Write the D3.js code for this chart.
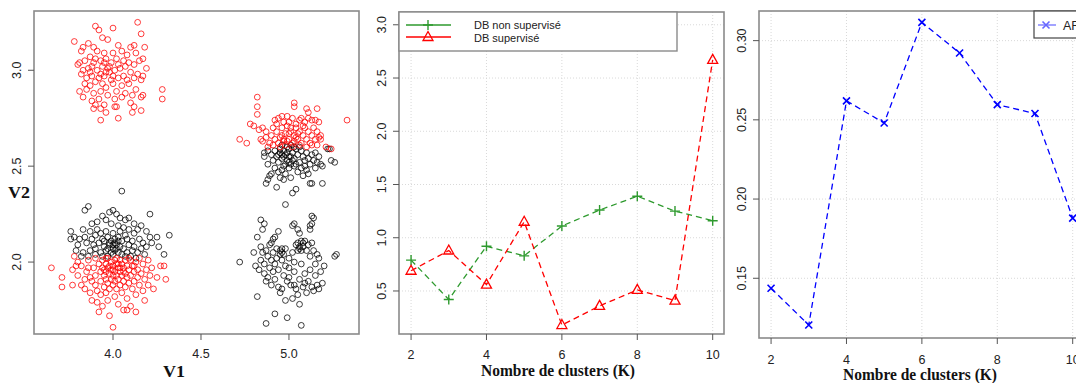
<!DOCTYPE html>
<html>
<head>
<meta charset="utf-8">
<script src="https://cdn.jsdelivr.net/npm/d3@7"></script>
<style>
body { margin: 0; background: #fff; }
text { font-family: Arial, "Liberation Sans", sans-serif; }
</style>
</head>
<body>
<div id="chart"></div>
<script>
// ---- data ----
let redTopLeft = [[3.78,3.15],[3.90,3.23],[3.92,3.21],[4.00,3.22],[4.14,3.25],[4.16,3.19],[4.18,3.12],[4.12,3.13],[4.10,3.12],[4.03,3.13],[3.97,3.16],[3.94,3.17],[3.86,3.14],[3.83,3.12],[3.82,3.10],[3.89,3.12],[3.91,3.10],[3.95,3.09],[4.00,3.09],[4.05,3.10],[4.08,3.08],[4.13,3.09],[4.17,3.06],[3.81,3.04],[3.84,3.05],[3.87,3.07],[3.90,3.06],[3.93,3.05],[3.96,3.06],[3.99,3.04],[4.02,3.06],[4.06,3.05],[4.09,3.04],[4.12,3.03],[4.15,3.05],[4.19,3.01],[3.80,3.03],[3.83,3.00],[3.86,3.01],[3.88,3.02],[3.91,3.00],[3.94,3.02],[3.97,3.01],[3.98,2.99],[4.01,3.00],[4.04,3.01],[4.07,3.02],[4.10,2.99],[4.14,2.98],[4.17,2.97],[3.82,2.98],[3.85,2.96],[3.88,2.97],[3.92,2.96],[3.95,2.97],[3.99,2.95],[4.03,2.96],[4.06,2.97],[4.08,2.95],[4.12,2.96],[4.16,2.95],[3.84,2.93],[3.87,2.92],[3.90,2.94],[3.94,2.93],[3.96,2.91],[4.00,2.93],[4.05,2.92],[4.09,2.93],[4.13,2.90],[3.81,2.89],[3.85,2.90],[3.89,2.88],[3.93,2.89],[3.97,2.87],[4.02,2.89],[4.07,2.88],[4.11,2.87],[4.16,2.86],[4.17,2.87],[4.28,2.90],[4.28,2.85],[3.83,2.86],[3.88,2.84],[3.92,2.85],[3.95,2.82],[4.01,2.85],[4.05,2.86],[4.10,2.83],[3.90,2.82],[3.93,2.80],[3.89,2.80],[4.01,2.81],[4.02,2.81],[4.12,2.81],[4.11,2.78],[4.16,2.79],[3.93,2.74],[4.03,2.75],[3.96,2.78],[3.98,3.02],[3.96,2.99],[3.93,2.98],[4.00,2.97],[3.89,3.04],[3.95,3.04],[4.03,3.03],[3.87,2.99]];

let blackBottomLeft = [[4.05,2.37],[3.86,2.29],[3.84,2.27],[4.21,2.25],[3.98,2.26],[4.00,2.27],[4.02,2.25],[4.04,2.23],[4.07,2.22],[4.09,2.23],[3.94,2.24],[3.91,2.21],[3.96,2.22],[3.88,2.20],[4.12,2.20],[4.16,2.19],[3.99,2.20],[4.03,2.19],[4.06,2.18],[4.09,2.17],[4.14,2.17],[3.76,2.16],[3.76,2.12],[3.83,2.17],[3.87,2.16],[3.91,2.17],[3.93,2.15],[3.96,2.16],[4.00,2.15],[4.04,2.16],[4.07,2.14],[4.12,2.15],[4.19,2.16],[4.21,2.13],[4.25,2.13],[4.32,2.14],[3.78,2.13],[3.81,2.12],[3.84,2.13],[3.88,2.12],[3.90,2.14],[3.94,2.12],[3.97,2.13],[4.01,2.12],[4.03,2.13],[4.05,2.11],[4.08,2.12],[4.11,2.11],[4.15,2.12],[4.17,2.10],[4.22,2.10],[3.80,2.09],[3.85,2.10],[3.89,2.09],[3.92,2.10],[3.95,2.08],[3.98,2.09],[4.00,2.07],[4.02,2.09],[4.04,2.08],[4.06,2.07],[4.09,2.09],[4.12,2.08],[4.16,2.07],[4.19,2.08],[4.26,2.08],[3.79,2.06],[3.83,2.05],[3.87,2.06],[3.90,2.07],[3.93,2.05],[3.96,2.06],[3.99,2.05],[4.01,2.06],[4.03,2.05],[4.05,2.04],[4.08,2.05],[4.11,2.06],[4.14,2.05],[4.18,2.04],[4.29,2.04],[3.82,2.03],[3.86,2.03],[3.90,2.04],[3.94,2.03],[3.97,2.03],[4.00,2.04],[4.07,2.03],[4.10,2.03],[4.13,2.02],[3.98,2.10],[3.99,2.11],[4.01,2.10],[4.03,2.11],[3.97,2.07],[4.02,2.07],[4.00,2.09],[3.95,2.11]];

let redBottomLeft = [[3.65,1.97],[3.71,1.92],[3.71,1.87],[3.77,1.88],[3.77,1.96],[3.78,2.03],[3.80,2.00],[3.82,1.98],[3.80,1.93],[3.82,1.88],[3.84,1.86],[3.85,1.95],[3.86,2.01],[3.87,1.92],[3.87,1.84],[3.88,1.80],[3.89,1.97],[3.90,2.02],[3.90,1.93],[3.90,1.88],[3.91,1.85],[3.91,1.79],[3.92,1.99],[3.93,1.95],[3.93,1.90],[3.93,1.83],[3.94,2.01],[3.94,1.97],[3.95,1.93],[3.95,1.87],[3.96,1.99],[3.96,1.95],[3.96,1.91],[3.96,1.84],[3.97,2.02],[3.97,1.97],[3.97,1.89],[3.98,1.94],[3.98,1.86],[3.98,1.72],[3.99,2.00],[3.99,1.96],[3.99,1.91],[4.00,1.98],[4.00,1.93],[4.00,1.88],[4.00,1.66],[4.01,2.01],[4.01,1.95],[4.01,1.90],[4.01,1.82],[4.02,1.99],[4.02,1.93],[4.02,1.86],[4.03,1.97],[4.03,1.91],[4.03,1.78],[4.04,2.01],[4.04,1.95],[4.04,1.88],[4.05,1.99],[4.05,1.93],[4.05,1.84],[4.06,1.97],[4.06,1.90],[4.06,1.75],[4.07,2.01],[4.07,1.94],[4.07,1.87],[4.08,1.98],[4.08,1.92],[4.08,1.81],[4.09,1.96],[4.09,1.89],[4.10,2.01],[4.10,1.93],[4.10,1.77],[4.11,1.98],[4.11,1.86],[4.12,1.95],[4.12,1.90],[4.13,2.00],[4.13,1.83],[4.14,1.96],[4.14,1.92],[4.15,2.02],[4.15,1.88],[4.16,1.94],[4.17,1.99],[4.17,1.85],[4.18,1.91],[4.18,1.80],[4.19,1.96],[4.20,2.01],[4.20,1.88],[4.21,1.93],[4.22,1.97],[4.23,1.86],[4.25,1.92],[4.27,1.98],[4.29,1.98],[4.30,1.91],[3.94,1.77],[3.97,1.80],[4.08,1.75],[3.92,1.74],[4.13,1.74],[3.88,1.90],[3.84,1.91],[3.86,1.97],[3.79,1.98],[4.02,2.02],[3.96,2.02],[4.09,2.02],[4.12,1.98],[4.04,1.97],[4.00,1.96],[3.98,1.98],[4.03,1.99],[4.06,1.95],[3.95,1.96]];

let redTopRight = [[4.82,2.86],[4.82,2.81],[4.82,2.77],[5.03,2.83],[5.03,2.81],[5.16,2.80],[5.10,2.80],[5.11,2.78],[5.33,2.74],[4.72,2.64],[4.76,2.62],[4.78,2.72],[4.80,2.71],[4.83,2.69],[4.85,2.70],[4.87,2.68],[4.92,2.74],[4.94,2.75],[4.96,2.76],[4.97,2.73],[4.99,2.76],[5.00,2.73],[5.02,2.75],[5.04,2.72],[5.06,2.74],[5.07,2.75],[5.09,2.73],[5.11,2.75],[5.13,2.74],[5.15,2.74],[5.17,2.73],[4.84,2.64],[4.85,2.63],[4.87,2.65],[4.89,2.62],[4.90,2.66],[4.91,2.70],[4.92,2.64],[4.93,2.68],[4.94,2.62],[4.95,2.65],[4.96,2.70],[4.97,2.63],[4.98,2.67],[4.99,2.71],[5.00,2.64],[5.01,2.68],[5.02,2.62],[5.03,2.66],[5.04,2.70],[5.05,2.64],[5.06,2.68],[5.07,2.62],[5.08,2.66],[5.09,2.70],[5.10,2.64],[5.11,2.68],[5.12,2.62],[5.13,2.66],[5.14,2.70],[5.15,2.64],[5.16,2.68],[5.17,2.65],[5.18,2.66],[5.18,2.64],[5.21,2.60],[5.24,2.59],[4.88,2.60],[4.91,2.61],[4.95,2.60],[4.98,2.61],[5.02,2.60],[5.06,2.61],[5.10,2.60],[5.13,2.61],[5.16,2.61],[4.93,2.72],[5.01,2.70],[5.08,2.71],[4.96,2.66],[5.04,2.65],[5.00,2.67],[4.97,2.64],[5.05,2.67],[4.99,2.63],[5.03,2.63]];

let blackTopRight = [[4.86,2.57],[4.86,2.55],[4.88,2.58],[4.90,2.56],[4.91,2.53],[4.92,2.58],[4.93,2.55],[4.94,2.52],[4.95,2.57],[4.96,2.54],[4.97,2.50],[4.97,2.58],[4.98,2.56],[4.99,2.53],[5.00,2.59],[5.00,2.55],[5.01,2.51],[5.02,2.57],[5.03,2.54],[5.04,2.59],[5.05,2.56],[5.06,2.52],[5.07,2.58],[5.08,2.55],[5.09,2.53],[5.10,2.57],[5.11,2.54],[5.12,2.51],[5.13,2.56],[5.14,2.53],[5.15,2.57],[5.16,2.52],[5.17,2.55],[5.18,2.51],[5.19,2.50],[5.22,2.59],[5.23,2.59],[5.24,2.53],[5.26,2.52],[4.88,2.51],[4.89,2.45],[4.88,2.43],[4.87,2.41],[4.90,2.46],[4.92,2.49],[4.93,2.39],[4.94,2.47],[4.95,2.44],[4.96,2.48],[4.97,2.43],[4.98,2.46],[5.00,2.49],[5.01,2.44],[5.02,2.36],[5.04,2.38],[5.05,2.47],[5.07,2.49],[5.08,2.45],[5.10,2.48],[5.12,2.41],[5.13,2.41],[5.19,2.41],[4.95,2.59],[4.96,2.61],[4.99,2.60],[5.01,2.61],[5.03,2.60],[5.06,2.60],[4.94,2.56],[4.99,2.57],[5.02,2.53],[5.04,2.51],[4.98,2.51],[4.96,2.56],[5.01,2.55],[4.98,2.30],[5.03,2.50],[5.00,2.52],[4.97,2.55],[5.09,2.50],[5.15,2.49],[5.11,2.46]];

let blackBottomRight = [[4.72,2.00],[4.87,1.68],[5.07,1.67],[4.99,1.71],[4.92,1.73],[4.82,1.82],[4.84,2.22],[4.86,2.20],[4.85,2.17],[4.82,2.13],[5.13,2.24],[5.13,2.20],[5.12,2.17],[5.03,2.20],[5.02,2.19],[5.05,2.17],[5.06,2.15],[4.94,2.16],[4.92,2.13],[4.91,2.12],[4.90,2.10],[5.27,2.04],[5.26,2.03],[4.80,2.05],[4.81,1.98],[4.83,1.96],[4.84,2.01],[4.84,2.08],[4.85,2.05],[4.86,1.94],[4.86,1.99],[4.87,2.06],[4.87,1.90],[4.88,2.03],[4.88,1.92],[4.89,1.97],[4.89,2.09],[4.90,2.01],[4.90,1.88],[4.91,1.95],[4.91,2.05],[4.92,1.99],[4.92,1.91],[4.93,2.07],[4.93,2.02],[4.94,1.87],[4.94,1.96],[4.95,2.06],[4.95,1.84],[4.96,2.01],[4.96,2.07],[4.97,1.93],[4.97,2.04],[4.98,1.98],[4.98,2.07],[4.99,1.90],[5.00,2.02],[5.00,1.97],[5.01,1.88],[5.02,2.05],[5.03,1.95],[5.03,2.00],[5.04,2.09],[5.04,1.86],[5.05,2.10],[5.06,2.07],[5.06,1.91],[5.07,2.11],[5.07,1.99],[5.08,2.08],[5.08,1.87],[5.09,2.11],[5.09,1.94],[5.10,2.06],[5.10,1.84],[5.11,2.09],[5.11,1.90],[5.12,2.03],[5.12,1.96],[5.13,2.10],[5.13,1.87],[5.14,2.06],[5.15,1.99],[5.15,1.93],[5.16,2.04],[5.16,1.88],[5.17,2.02],[5.17,1.86],[5.18,1.95],[5.19,1.89],[5.20,1.98],[5.14,1.85],[5.02,1.81],[5.05,1.83],[4.98,1.80],[5.06,1.78],[4.96,1.86],[5.00,1.92],[5.07,2.06],[5.06,2.08],[5.05,2.06],[5.08,2.10],[4.96,2.05],[4.95,2.04],[5.09,1.89],[5.03,1.88],[5.14,2.23],[5.12,2.19]];

let kValues = [2, 3, 4, 5, 6, 7, 8, 9, 10];
let dbNonSup = [0.79, 0.42, 0.92, 0.83, 1.11, 1.26, 1.39, 1.25, 1.16];
let dbSup = [0.69, 0.88, 0.56, 1.15, 0.18, 0.36, 0.51, 0.41, 2.67];
let ari = [0.1437, 0.1205, 0.2620, 0.2480, 0.3115, 0.2922, 0.2596, 0.2540, 0.1880];

let kTicks = [2, 4, 6, 8, 10];
let dbTicks = [0.5, 1.0, 1.5, 2.0, 2.5, 3.0];
let ariTicks = [0.15, 0.20, 0.25, 0.30];
let v1Ticks = [4.0, 4.5, 5.0];
let v2Ticks = [2.0, 2.5, 3.0];

let svg = d3.select("#chart").append("svg")
    .attr("width", 1076)
    .attr("height", 383)
    .style("background", "#fff");

const BORDER = "#8a8a8a";
const TXT = "#222";

// common frame: box, ticks, tick labels
function drawFrame(b, x, y, xt, yt, yfmt, xlabY) {
    let g = svg.append("g");
    g.append("rect")
        .attr("x", b.l).attr("y", b.t)
        .attr("width", b.r - b.l).attr("height", b.b - b.t)
        .attr("fill", "none").attr("stroke", BORDER).attr("stroke-width", 1.6);
    xt.forEach(function (v) {
        g.append("line").attr("x1", x(v)).attr("x2", x(v))
            .attr("y1", b.b).attr("y2", b.b + 6).attr("stroke", "#555");
        g.append("text").attr("x", x(v)).attr("y", xlabY)
            .attr("text-anchor", "middle").attr("font-size", 12.5).attr("fill", TXT)
            .text(v % 1 === 0 && b.intX ? v : d3.format(".1f")(v));
    });
    yt.forEach(function (v) {
        g.append("line").attr("x1", b.l - 6).attr("x2", b.l)
            .attr("y1", y(v)).attr("y2", y(v)).attr("stroke", "#555");
        g.append("text")
            .attr("transform", `translate(${b.l - 13},${y(v)}) rotate(-90)`)
            .attr("text-anchor", "middle").attr("font-size", 12.5).attr("fill", TXT)
            .text(yfmt(v));
    });
    return g;
}

function drawGrid(b, x, y, xt, yt) {
    let g = svg.append("g").attr("stroke", "#d9d9d9").attr("stroke-dasharray", "1,2");
    xt.forEach(function (v) {
        g.append("line").attr("x1", x(v)).attr("x2", x(v)).attr("y1", b.t).attr("y2", b.b);
    });
    yt.forEach(function (v) {
        g.append("line").attr("x1", b.l).attr("x2", b.r).attr("y1", y(v)).attr("y2", y(v));
    });
}

function axisTitle(txt, cx, cy, w) {
    svg.append("text").attr("x", cx).attr("y", cy)
        .attr("text-anchor", "middle")
        .style("font-family", "'Liberation Serif', 'DejaVu Serif', serif")
        .style("font-weight", "bold").attr("font-size", 17).attr("fill", "#111")
        .attr("textLength", w).attr("lengthAdjust", "spacingAndGlyphs")
        .text(txt);
}

// markers
function plus(g, cx, cy, col) {
    g.append("path").attr("d", `M${cx - 5},${cy}H${cx + 5}M${cx},${cy - 5}V${cy + 5}`)
        .attr("stroke", col).attr("stroke-width", 1.4).attr("fill", "none");
}
function tri(g, cx, cy, col) {
    g.append("path").attr("d", `M${cx},${cy - 5.5}L${cx + 5},${cy + 3.5}L${cx - 5},${cy + 3.5}Z`)
        .attr("stroke", col).attr("stroke-width", 1.3).attr("fill", "none");
}
function cross(g, cx, cy, col) {
    g.append("path").attr("d", `M${cx - 3.5},${cy - 3.5}L${cx + 3.5},${cy + 3.5}M${cx - 3.5},${cy + 3.5}L${cx + 3.5},${cy - 3.5}`)
        .attr("stroke", col).attr("stroke-width", 1.6).attr("fill", "none");
}

// ---------- panel 1 : scatter ----------
let b1 = {l: 34, r: 359, t: 11, b: 334};
let x1 = d3.scaleLinear().domain([3.551, 5.398]).range([b1.l, b1.r]);
let y1 = d3.scaleLinear().domain([1.625, 3.309]).range([b1.b, b1.t]);
drawFrame(b1, x1, y1, v1Ticks, v2Ticks, d3.format(".1f"), 358);

let pts = svg.append("g");
[[blackBottomLeft, "#000"], [blackTopRight, "#000"], [blackBottomRight, "#000"],
 [redTopLeft, "#f00"], [redBottomLeft, "#f00"], [redTopRight, "#f00"]].forEach(function (s) {
    pts.selectAll(null).data(s[0]).enter().append("circle")
        .attr("cx", d => x1(d[0])).attr("cy", d => y1(d[1]))
        .attr("r", 2.9).attr("fill", "none")
        .attr("stroke", s[1]).attr("stroke-width", 0.9).attr("stroke-opacity", 0.85);
});
axisTitle("V1", 174, 377, 22);
axisTitle("V2", 19, 198, 22);

// ---------- panel 2 : DB ----------
let b2 = {l: 399, r: 724, t: 12, b: 334, intX: true};
let x2 = d3.scaleLinear().domain([1.68, 10.3]).range([b2.l, b2.r]);
let y2 = d3.scaleLinear().domain([0.096, 3.12]).range([b2.b, b2.t]);
drawGrid(b2, x2, y2, kTicks, dbTicks);
drawFrame(b2, x2, y2, kTicks, dbTicks, d3.format(".1f"), 359);

let line2 = d3.line().x((d, i) => x2(kValues[i])).y(d => y2(d));
svg.append("path").datum(dbNonSup).attr("d", line2)
    .attr("fill", "none").attr("stroke", "#2e9a2e").attr("stroke-width", 1.3).attr("stroke-dasharray", "6,4");
svg.append("path").datum(dbSup).attr("d", line2)
    .attr("fill", "none").attr("stroke", "#f00").attr("stroke-width", 1.3).attr("stroke-dasharray", "6,4");
let m2 = svg.append("g");
dbNonSup.forEach((v, i) => plus(m2, x2(kValues[i]), y2(v), "#2e9a2e"));
dbSup.forEach((v, i) => tri(m2, x2(kValues[i]), y2(v), "#f00"));

// legend
let lg2 = svg.append("g");
lg2.append("rect").attr("x", 399).attr("y", 12).attr("width", 278).attr("height", 39)
    .attr("fill", "#fff").attr("stroke", BORDER).attr("stroke-width", 1.4);
lg2.append("line").attr("x1", 406).attr("x2", 451).attr("y1", 25).attr("y2", 25)
    .attr("stroke", "#2e9a2e").attr("stroke-width", 1.5);
plus(lg2, 428, 25, "#2e9a2e");
lg2.append("line").attr("x1", 406).attr("x2", 451).attr("y1", 37).attr("y2", 37)
    .attr("stroke", "#f00").attr("stroke-width", 1.5);
tri(lg2, 428, 37, "#f00");
lg2.append("text").attr("x", 474).attr("y", 29).attr("font-size", 11).attr("fill", TXT).text("DB non supervisé");
lg2.append("text").attr("x", 474).attr("y", 42).attr("font-size", 11).attr("fill", TXT).text("DB supervisé");
axisTitle("Nombre de clusters (K)", 558, 376, 154);

// ---------- panel 3 : ARI ----------
let b3 = {l: 759, r: 1090, t: 11, b: 338, intX: true};
let x3 = d3.scaleLinear().domain([1.68, 10.3]).range([b3.l, b3.l + 325]);
let y3 = d3.scaleLinear().domain([0.1123, 0.3187]).range([b3.b, b3.t]);
drawGrid(b3, x3, y3, kTicks, ariTicks);
drawFrame(b3, x3, y3, kTicks, ariTicks, d3.format(".2f"), 364);

let line3 = d3.line().x((d, i) => x3(kValues[i])).y(d => y3(d));
svg.append("path").datum(ari).attr("d", line3)
    .attr("fill", "none").attr("stroke", "#00f").attr("stroke-width", 1.3).attr("stroke-dasharray", "6,4");
let m3 = svg.append("g");
ari.forEach((v, i) => cross(m3, x3(kValues[i]), y3(v), "#00f"));

let lg3 = svg.append("g");
lg3.append("rect").attr("x", 1034).attr("y", 11).attr("width", 60).attr("height", 27)
    .attr("fill", "#fff").attr("stroke", "#444").attr("stroke-width", 1.2);
lg3.append("line").attr("x1", 1038).attr("x2", 1056).attr("y1", 25).attr("y2", 25)
    .attr("stroke", "#66f").attr("stroke-width", 1.2);
cross(lg3, 1046, 25, "#66f");
lg3.append("text").attr("x", 1063).attr("y", 30).attr("font-size", 12.5).attr("fill", TXT).text("ARI");
axisTitle("Nombre de clusters (K)", 920, 380, 154);
</script>
</body>
</html>
